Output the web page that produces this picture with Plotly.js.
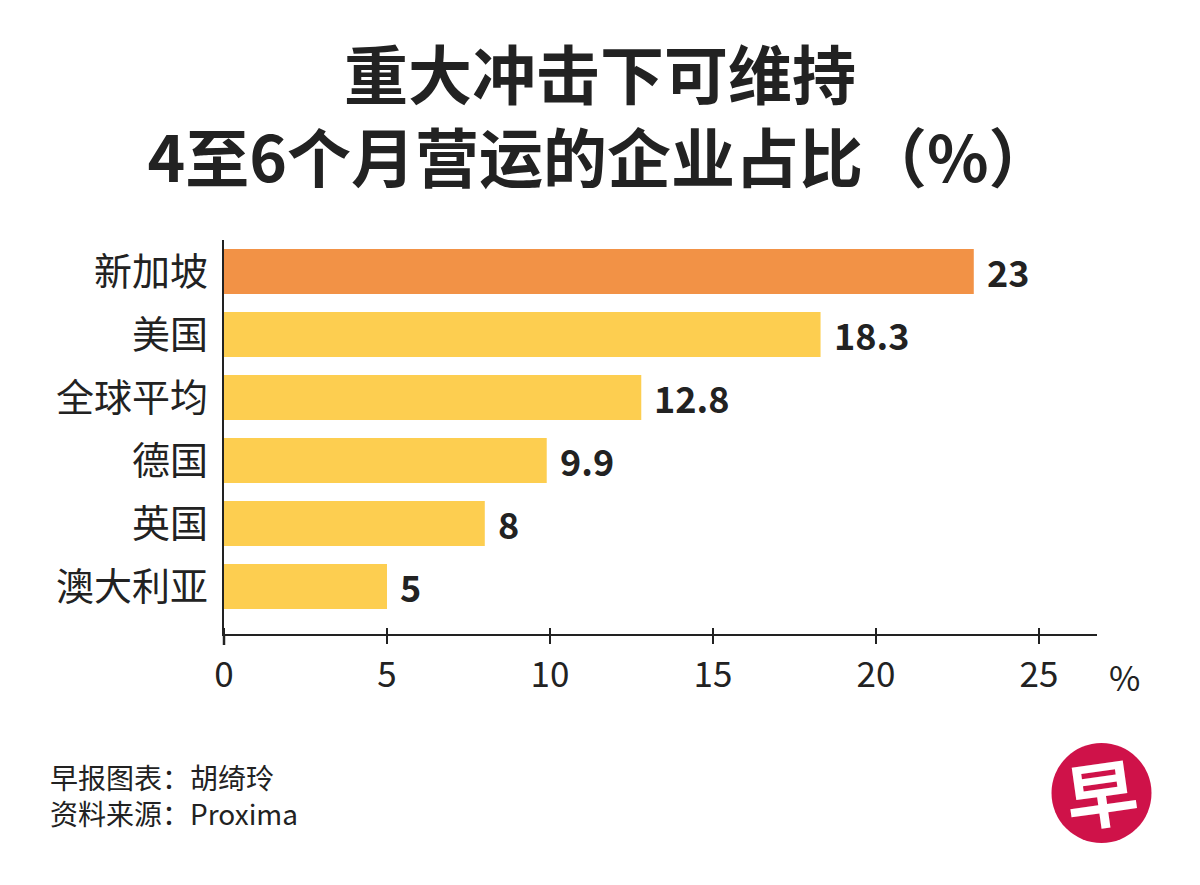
<!DOCTYPE html>
<html>
<head>
<meta charset="utf-8">
<script src="https://cdn.plot.ly/plotly-3.0.1.min.js"></script>
<style>html,body{margin:0;padding:0;background:#fff;}#chart{width:1200px;height:885px;}</style>
</head>
<body>
<div id="chart"></div>
<script>
const categories = ['新加坡', '美国', '全球平均', '德国', '英国', '澳大利亚'];
const values = [23, 18.3, 12.8, 9.9, 8, 5];
const valueLabels = ['23', '18.3', '12.8', '9.9', '8', '5'];
const barColors = ['#F29246', '#FDCE50', '#FDCE50', '#FDCE50', '#FDCE50', '#FDCE50'];
const tickValues = [0, 5, 10, 15, 20, 25];
const tickLabels = ['0', '5', '10', '15', '20', '25'];
const titleText = '重大冲击下可维持<br>4至6个月营运的企业占比（%）';
const footerLines = ['早报图表：胡绮玲', '资料来源：Proxima'];

const CJK = '"Noto Sans CJK SC", "Noto Sans", sans-serif';
const L = 224, R = 1097, T = 240, B = 634;
const W = 1200, H = 885;
const px = x => (x - L) / (R - L);
const py = y => (B - y) / (B - T);

const trace = {
  type: 'bar',
  orientation: 'h',
  x: values,
  y: categories,
  width: 0.714,
  marker: {color: barColors, line: {width: 0}},
  hoverinfo: 'skip',
  cliponaxis: false
};

const annotations = values.map((v, i) => ({
  x: v, y: categories[i], xref: 'x', yref: 'y',
  text: valueLabels[i], showarrow: false,
  xanchor: 'left', yanchor: 'middle', xshift: 11, yshift: 1,
  font: {family: CJK, size: 36, color: '#222', weight: 'bold'}
}));

annotations.push({
  x: px(1124), y: py(676), xref: 'paper', yref: 'paper',
  text: '%', showarrow: false, xanchor: 'center', yanchor: 'middle',
  font: {family: CJK, size: 34, color: '#222'}
});

annotations.push({
  x: px(48), y: py(795), xref: 'paper', yref: 'paper',
  text: footerLines.join('<br>'), showarrow: false, xanchor: 'left', yanchor: 'middle',
  align: 'left',
  font: {family: CJK, size: 28, color: '#222'}
});

annotations.push({
  x: px(1101), y: py(790), xref: 'paper', yref: 'paper',
  text: '早', showarrow: false, xanchor: 'center', yanchor: 'middle',
  textangle: -8,
  font: {family: CJK, size: 72, color: '#fff', weight: 'bold'}
});

const layout = {
  width: W, height: H,
  paper_bgcolor: '#fff', plot_bgcolor: '#fff',
  margin: {l: L, r: W - R, t: T, b: H - B, pad: 0},
  showlegend: false,
  title: {
    text: titleText,
    x: 0.5, xref: 'container', xanchor: 'center',
    y: 1 - 99 / H, yref: 'container', yanchor: 'middle',
    font: {family: CJK, size: 64, color: '#222', weight: 'bold'}
  },
  xaxis: {
    range: [0, 26.78],
    tickvals: tickValues, ticktext: tickLabels,
    showgrid: false, zeroline: false,
    showline: true, linecolor: '#222', linewidth: 2,
    ticks: 'outside', ticklen: 8, tickwidth: 2, tickcolor: '#222',
    minor: {tickvals: tickValues, ticks: 'inside', ticklen: 6, tickwidth: 2, tickcolor: '#222'},
    ticklabelstandoff: 1,
    tickfont: {family: CJK, size: 35, color: '#222'},
    fixedrange: true
  },
  yaxis: {
    type: 'category',
    categoryorder: 'array', categoryarray: categories,
    range: [5.754, -0.5],
    showgrid: false, zeroline: false,
    showline: true, linecolor: '#222', linewidth: 2.5,
    ticks: '', ticklabelstandoff: 6,
    tickfont: {family: CJK, size: 38, color: '#222'},
    fixedrange: true
  },
  shapes: [
    {
      type: 'line', xref: 'paper', yref: 'paper',
      x0: 0, x1: 0, y0: 0, y1: py(645),
      line: {color: '#222', width: 2.5}
    },
    {
      type: 'circle', xref: 'paper', yref: 'paper',
      xsizemode: 'pixel', ysizemode: 'pixel',
      xanchor: px(1101.5), yanchor: py(793),
      x0: -50, x1: 50, y0: -50, y1: 50,
      fillcolor: '#CF1249', line: {width: 0}
    }
  ],
  annotations: annotations
};

Plotly.newPlot('chart', [trace], layout, {displayModeBar: false, staticPlot: true});
</script>
</body>
</html>
